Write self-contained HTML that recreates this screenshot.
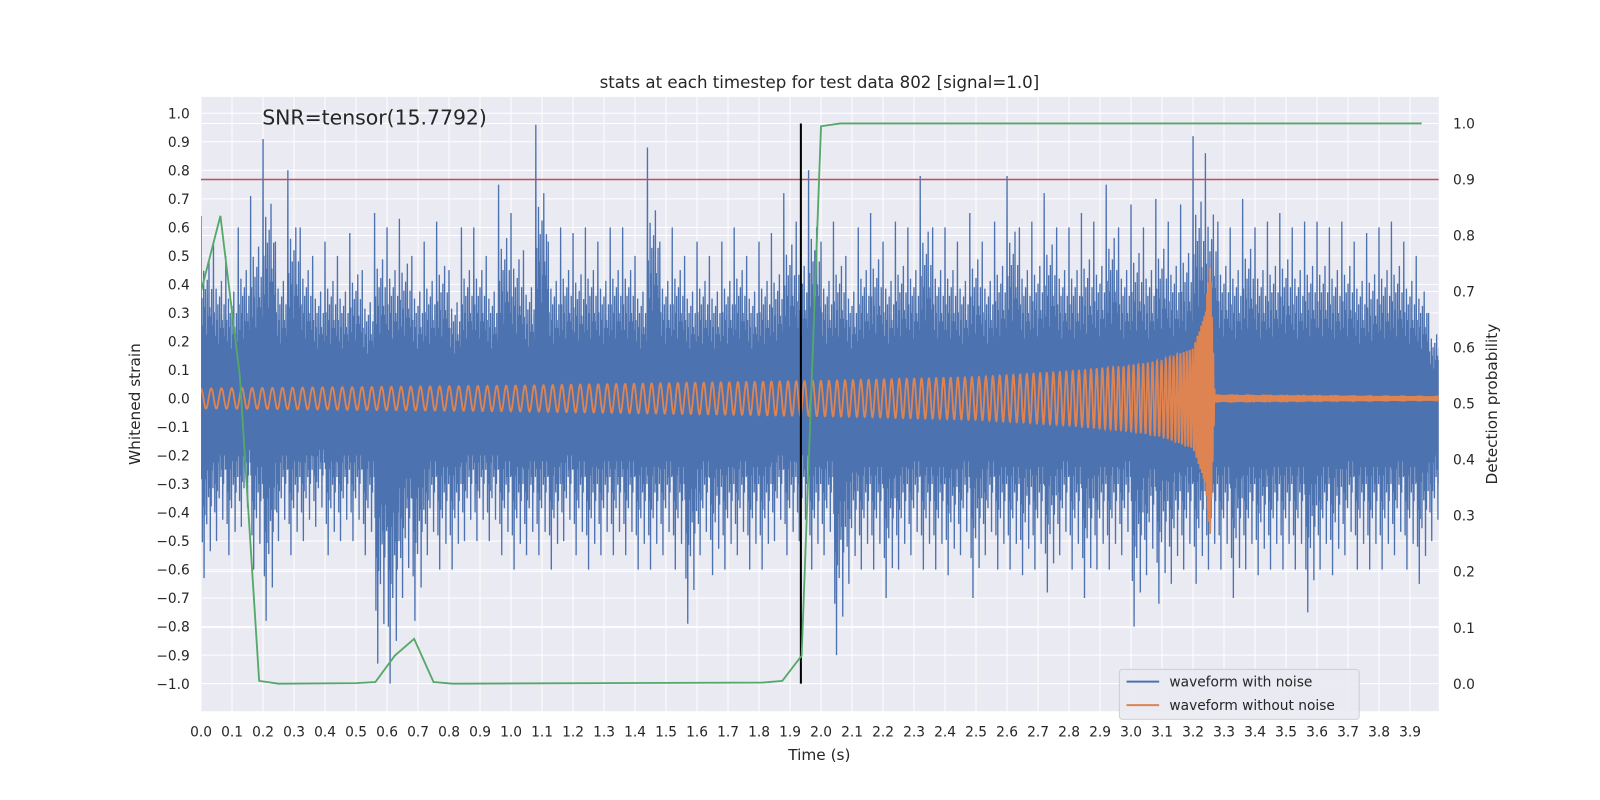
<!DOCTYPE html>
<html><head><meta charset="utf-8"><style>
body{margin:0;background:#fff;}
svg{font-family:"DejaVu Sans","Liberation Sans",sans-serif;display:block;}
</style></head><body>
<svg id="chart" width="1600" height="800" viewBox="0 0 1568 784">
<rect x="197" y="95" width="1213" height="602" fill="#eaeaf2"/>
<g id="grid"></g>
<g id="series" clip-path="url(#clip)"></g>
<defs><clipPath id="clip"><rect x="197" y="95" width="1213" height="602"/></clipPath></defs>
<g id="axes"></g>
<text x="803" y="86" text-anchor="middle" font-size="16.3" fill="#262626">stats at each timestep for test data 802 [signal=1.0]</text>
<text x="257" y="122" font-size="20" fill="#262626">SNR=tensor(15.7792)</text>
<text x="803" y="745" text-anchor="middle" font-size="15" fill="#262626">Time (s)</text>
<text transform="translate(137,396) rotate(-90)" text-anchor="middle" font-size="15" fill="#262626">Whitened strain</text>
<text transform="translate(1467,396) rotate(-90)" text-anchor="middle" font-size="15" fill="#262626">Detection probability</text>
<g>
<rect x="1097" y="656" width="235" height="49" rx="3" fill="#eaeaf2" stroke="#ccc" opacity="0.9"/>
<line x1="1104" y1="668" x2="1136" y2="668" stroke="#4c72b0" stroke-width="2"/>
<text x="1146" y="673" font-size="13.5" fill="#262626">waveform with noise</text>
<line x1="1104" y1="691" x2="1136" y2="691" stroke="#dd8452" stroke-width="2"/>
<text x="1146" y="696" font-size="13.5" fill="#262626">waveform without noise</text>
</g>
</svg>
<script>
const xTicks=[0,0.1,0.2,0.3,0.4,0.5,0.6,0.7,0.8,0.9,1.0,1.1,1.2,1.3,1.4,1.5,1.6,1.7,1.8,1.9,2.0,2.1,2.2,2.3,2.4,2.5,2.6,2.7,2.8,2.9,3.0,3.1,3.2,3.3,3.4,3.5,3.6,3.7,3.8,3.9];
const yTicks=[1.0,0.9,0.8,0.7,0.6,0.5,0.4,0.3,0.2,0.1,0.0,-0.1,-0.2,-0.3,-0.4,-0.5,-0.6,-0.7,-0.8,-0.9,-1.0];
const y2Ticks=[0,0.1,0.2,0.3,0.4,0.5,0.6,0.7,0.8,0.9,1.0];
const noiseUpper=[0.64,0.55,0.5,0.6,0.71,0.91,0.55,0.8,0.6,0.5,0.55,0.5,0.58,0.45,0.65,0.6,0.63,0.5,0.55,0.62,0.45,0.6,0.6,0.5,0.75,0.65,0.52,0.96,0.55,0.6,0.58,0.6,0.55,0.6,0.6,0.5,0.88,0.55,0.6,0.5,0.55,0.5,0.55,0.6,0.5,0.55,0.58,0.72,0.62,0.8,0.55,0.62,0.5,0.6,0.65,0.55,0.62,0.6,0.78,0.6,0.6,0.55,0.65,0.55,0.62,0.78,0.6,0.62,0.72,0.6,0.6,0.65,0.62,0.75,0.6,0.68,0.6,0.7,0.62,0.68,0.92,0.86,0.62,0.6,0.7,0.6,0.62,0.65,0.6,0.62,0.62,0.6,0.62,0.55,0.58,0.6,0.62,0.55,0.5,0.3];
const noiseLower=[-0.63,-0.5,-0.55,-0.45,-0.6,-0.78,-0.5,-0.55,-0.5,-0.45,-0.55,-0.5,-0.5,-0.55,-0.93,-1.0,-0.7,-0.78,-0.55,-0.6,-0.6,-0.5,-0.5,-0.5,-0.55,-0.6,-0.55,-0.55,-0.6,-0.5,-0.55,-0.6,-0.55,-0.55,-0.55,-0.6,-0.6,-0.55,-0.6,-0.79,-0.55,-0.62,-0.6,-0.55,-0.6,-0.6,-0.5,-0.55,-0.5,-0.6,-0.55,-0.9,-0.65,-0.6,-0.6,-0.7,-0.6,-0.55,-0.6,-0.6,-0.62,-0.55,-0.7,-0.55,-0.6,-0.6,-0.62,-0.6,-0.68,-0.55,-0.6,-0.7,-0.6,-0.6,-0.55,-0.8,-0.62,-0.72,-0.65,-0.6,-0.65,-0.6,-0.6,-0.7,-0.6,-0.62,-0.6,-0.6,-0.6,-0.75,-0.6,-0.62,-0.55,-0.6,-0.6,-0.6,-0.55,-0.6,-0.65,-0.5];
const ampT=[0,1,2,2.5,2.8,3.0,3.1,3.2,3.24,3.255,3.27,4];
const ampV=[0.035,0.045,0.062,0.075,0.095,0.115,0.135,0.175,0.3,0.5,0.01,0.005];
const freqT=[0,1,2,2.8,3.1,3.2,3.25,4];
const freqV=[30,33,38,48,70,110,250,250];
const probT=[0,0.0625,0.125,0.1875,0.25,0.5,0.5625,0.625,0.6875,0.75,0.8125,1.8125,1.875,1.9375,2.0,2.0625,3.9375];
const probV=[0.70,0.835,0.55,0.005,0,0.001,0.003,0.05,0.08,0.003,0,0.002,0.005,0.05,0.995,1.0,1.0];
const threshold=0.9, markerT=1.935;

const NS="http://www.w3.org/2000/svg";
const X=t=>197+t*303.8, Y=v=>390.5-v*279.5, Y2=p=>670-p*549;
function mk(tag,attrs,parent){const e=document.createElementNS(NS,tag);for(const k in attrs)e.setAttribute(k,attrs[k]);parent.appendChild(e);return e;}
const grid=document.getElementById('grid'),axes=document.getElementById('axes'),ser=document.getElementById('series');
xTicks.forEach(t=>{
 const l=mk('line',{x1:X(t),x2:X(t),y1:95,y2:697,stroke:'#fff','stroke-width':1},grid);
 
 
 const tx=mk('text',{x:X(t),y:722,'text-anchor':'middle','font-size':13.5,fill:'#262626'},axes);
 tx.textContent=t.toFixed(1);
 
 
});
yTicks.forEach(v=>{
 const l=mk('line',{x1:197,x2:1410,y1:Y(v),y2:Y(v),stroke:'#fff','stroke-width':1},grid);
 
 
 const tx=mk('text',{x:186,y:Y(v)+5,'text-anchor':'end','font-size':13.5,fill:'#262626'},axes);
 tx.textContent=(v<0?'\u2212':'')+Math.abs(v).toFixed(1);
 
 
});
y2Ticks.forEach(p=>{
 const l=mk('line',{x1:197,x2:1410,y1:Y2(p),y2:Y2(p),stroke:'#fff','stroke-width':1},grid);
 
 
 const tx=mk('text',{x:1424,y:Y2(p)+5,'font-size':13.5,fill:'#262626'},axes);
 tx.textContent=p.toFixed(1);
 
 
});
// noise
const pat=[1,-0.45,0.55,-0.8,0.4,-0.6,0.7,-1,0.5,-0.65,0.6,-0.45,0.35,-0.7,0.65,-0.4,0.45,-0.55,0.75,-0.5,0.5,-0.85,0.45,-0.6,0.6,-0.4,0.4,-0.5];
let d='';const bw=0.04;
noiseUpper.forEach((u,i)=>{
 const lo=noiseLower[i];
 pat.forEach((f,j)=>{
  const t=i*bw+j*bw/pat.length;
  const v=f>0?f*u:-f*lo;
  d+=(d?'L':'M')+X(t).toFixed(1)+' '+Y(v).toFixed(1);
 });
});
const pn=mk('path',{d:d,fill:'none',stroke:'#4c72b0','stroke-width':1.3},ser);


// clean chirp
function interp(ts,vs,t){for(let i=1;i<ts.length;i++){if(t<=ts[i]){const f=(t-ts[i-1])/(ts[i]-ts[i-1]);return vs[i-1]+f*(vs[i]-vs[i-1]);}}return vs[vs.length-1];}
let dc='',ph=0;const dt=0.0004;
for(let t=0;t<=4;t+=dt){
 ph+=2*Math.PI*interp(freqT,freqV,t)*dt;
 const v=interp(ampT,ampV,t)*Math.cos(ph);
 dc+=(dc?'L':'M')+X(t).toFixed(1)+' '+Y(v).toFixed(1);
}
const pc=mk('path',{d:dc,fill:'none',stroke:'#dd8452','stroke-width':1.8},ser);


// threshold & marker
const th=mk('line',{x1:197,x2:1410,y1:Y2(threshold),y2:Y2(threshold),stroke:'#c44e52','stroke-width':1.5},ser);


const mkln=mk('line',{x1:X(markerT),x2:X(markerT),y1:Y2(1),y2:Y2(0),stroke:'#000','stroke-width':2},ser);


// probability
const pp=mk('polyline',{points:probT.map((t,i)=>X(t)+','+Y2(probV[i])).join(' '),fill:'none',stroke:'#55a868','stroke-width':1.8},ser);


</script>
</body></html>
